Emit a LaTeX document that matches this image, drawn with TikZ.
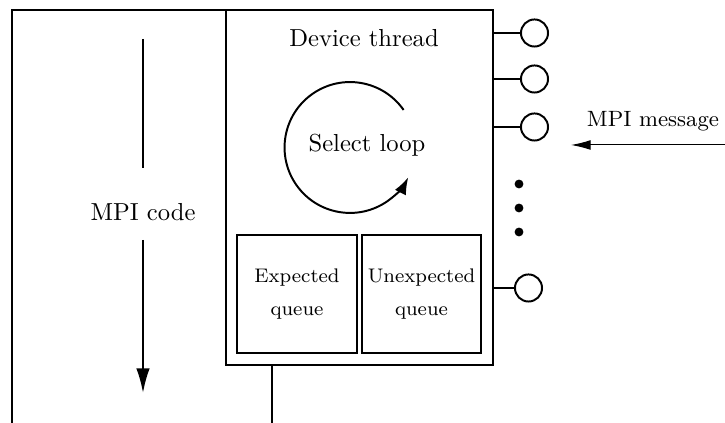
\documentclass[tikz,border=0pt]{standalone}
\usetikzlibrary{arrows.meta,fit}
\begin{document}
\begin{tikzpicture}[x=0.4065pt,y=-0.4065pt,
  ln/.style={line width=0.8pt},
  box/.style={draw,line width=0.8pt,inner sep=0pt},
  port/.style={draw,circle,line width=0.8pt,minimum size=11pt,inner sep=0pt},
  dotn/.style={fill,circle,minimum size=3.6pt,inner sep=0pt},
  lbl/.style={inner sep=1pt},
  qlbl/.style={font=\footnotesize,align=center,inner sep=0pt}]
\useasboundingbox (0,0) rectangle (725,423);
% outer frame
\coordinate (fbl) at (12,423);
\coordinate (ftl) at (12,10);
\coordinate (ftr) at (272,10);
\draw[ln] (fbl) -- (ftl) -- (ftr);
% device thread box
\node[box,fit={(226,10)(493,365)}] (dev) {};
\node[lbl] (devt) at (364,38) {Device thread};
\coordinate (fb) at (272,423);
\draw[ln] (dev.south -| fb) -- (fb);
% select loop
\node[lbl] (sel) at (367,145) {Select loop};
\coordinate (lc) at (350,147.5);
\draw[ln,-{Latex[length=7pt,width=5pt]}] (lc) ++(35:26.6pt) arc[start angle=35,end angle=333,radius=26.6pt];
% queues
\node[box,fit={(237,235)(357,353)}] (eq) {};
\node[box,fit={(362,235)(481,353)}] (uq) {};
\node[qlbl] (eqt) at (eq.center) {Expected\\[4pt]queue};
\node[qlbl] (uqt) at (uq.center) {Unexpected\\[4pt]queue};
% ports
\node[port] (p1) at (534.5,33) {};
\node[port] (p2) at (534.5,79) {};
\node[port] (p3) at (534.5,127) {};
\node[port] (p4) at (528.5,288) {};
\foreach \p in {p1,p2,p3,p4} \draw[ln] (\p.west -| dev.east) -- (\p.west);
\node[dotn] (d1) at (519,184) {};
\node[dotn] (d2) at (519,208) {};
\node[dotn] (d3) at (519,232) {};
% MPI message
\coordinate (ms) at (725,145);
\coordinate (me) at (571,145);
\draw[line width=0.4pt,-{Latex[length=8pt,width=4pt]}] (ms) -- (me);
\node[lbl,font=\small] (msg) at (653,121) {MPI message};
% MPI code
\node[lbl] (code) at (143,212) {MPI code};
\coordinate (c1) at (143,39);
\coordinate (c2) at (143,168);
\coordinate (c3) at (143,240);
\coordinate (c4) at (143,393);
\draw[ln] (c1) -- (c2);
\draw[ln,-{Latex[length=10pt,width=5.5pt]}] (c3) -- (c4);
\end{tikzpicture}
\end{document}
